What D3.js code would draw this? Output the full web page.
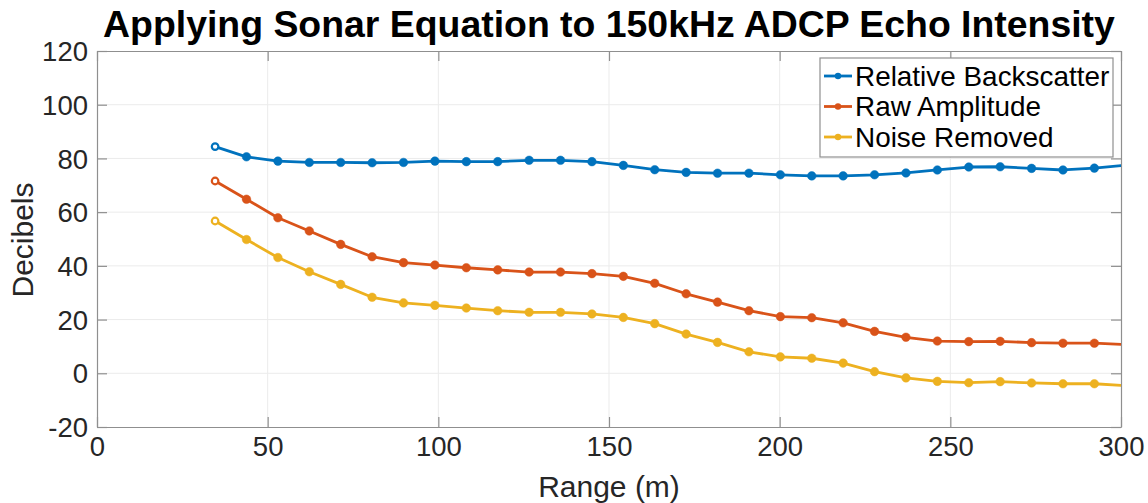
<!DOCTYPE html>
<html><head><meta charset="utf-8">
<script src="https://cdn.jsdelivr.net/npm/d3@7"></script>
<style>body{margin:0;background:#fff;} text{font-family:"Liberation Sans",Arial,Helvetica,sans-serif;}</style>
</head><body><svg id="c" width="1148" height="503"></svg>
<script>
const rangeM = [34.6,43.8,53.0,62.2,71.4,80.6,89.8,99.0,108.2,117.4,126.6,135.8,145.0,154.2,163.4,172.6,181.8,191.0,200.2,209.4,218.6,227.8,237.0,246.2,255.4,264.6,273.8,283.0,292.2,301.4];
const relativeBackscatter = [84.4,80.6,79.0,78.5,78.5,78.4,78.5,79.0,78.8,78.8,79.3,79.3,78.8,77.4,75.8,74.8,74.5,74.5,73.9,73.5,73.5,73.9,74.6,75.7,76.8,76.9,76.3,75.7,76.4,77.5];
const rawAmplitude = [71.6,64.8,57.9,53.0,48.0,43.4,41.2,40.3,39.3,38.5,37.7,37.7,37.1,36.1,33.5,29.6,26.5,23.3,21.1,20.7,18.8,15.6,13.4,12.0,11.8,11.9,11.4,11.2,11.2,10.7];
const noiseRemoved = [56.7,49.8,43.1,37.8,33.1,28.3,26.2,25.3,24.3,23.3,22.7,22.7,22.1,20.8,18.5,14.6,11.5,8.0,6.1,5.6,3.8,0.6,-1.7,-3.0,-3.5,-3.1,-3.6,-3.9,-3.9,-4.6];
const seriesNames = ["Relative Backscatter","Raw Amplitude","Noise Removed"];
const seriesColors = ["#0072BD","#D95319","#EDB120"];
const xTicks = [0,50,100,150,200,250,300];
const yTicks = [-20,0,20,40,60,80,100,120];
const titleText = "Applying Sonar Equation to 150kHz ADCP Echo Intensity";
const xLabel = "Range (m)", yLabel = "Decibels";

const series = [relativeBackscatter, rawAmplitude, noiseRemoved].map((v,i)=>({name:seriesNames[i], color:seriesColors[i], values:v}));

const L=97, R=1121, T=51, B=427;
const svg = d3.select("#c");
const x = d3.scaleLinear().domain([0,300]).range([L,R]);
const y = d3.scaleLinear().domain([-20,120]).range([B,T]);
const axisCol = "#8f8f8f", textCol = "#262626", gridCol = "#ebebeb";
const fmt = d => String(d);

// grid
const g = svg.append("g");
g.selectAll(".gx").data(xTicks.slice(1,-1)).enter().append("line")
 .attr("x1",d=>x(d)).attr("x2",d=>x(d)).attr("y1",T).attr("y2",B).attr("stroke",gridCol).attr("stroke-width",1);
g.selectAll(".gy").data(yTicks.slice(1,-1)).enter().append("line")
 .attr("x1",L).attr("x2",R).attr("y1",d=>y(d)).attr("y2",d=>y(d)).attr("stroke",gridCol).attr("stroke-width",1);

// axes
const tl = 10;
function styleAxis(sel){ sel.select(".domain").attr("stroke",axisCol).attr("stroke-width",1.2);
  sel.selectAll(".tick line").attr("stroke",axisCol).attr("stroke-width",1.2);
  sel.selectAll("text").attr("fill",textCol).style("font-size","27.5px").style("font-family",'"Liberation Sans",Arial,sans-serif'); }
const xa = svg.append("g").attr("transform",`translate(0,${B})`).call(d3.axisBottom(x).tickValues(xTicks).tickSize(-tl).tickSizeOuter(0).tickPadding(9).tickFormat(fmt));
styleAxis(xa);
const xt = svg.append("g").attr("transform",`translate(0,${T})`).call(d3.axisTop(x).tickValues(xTicks).tickSize(-tl).tickSizeOuter(0).tickFormat(""));
styleAxis(xt);
const ya = svg.append("g").attr("transform",`translate(${L},0)`).call(d3.axisLeft(y).tickValues(yTicks).tickSize(-tl).tickSizeOuter(0).tickPadding(9).tickFormat(fmt));
styleAxis(ya);
const yr = svg.append("g").attr("transform",`translate(${R},0)`).call(d3.axisRight(y).tickValues(yTicks).tickSize(-tl).tickSizeOuter(0).tickFormat(""));
styleAxis(yr);
ya.selectAll("text").attr("dy","0.35em");

// clip
svg.append("clipPath").attr("id","clip").append("rect").attr("x",L).attr("y",T).attr("width",R-L).attr("height",B-T);
const plot = svg.append("g").attr("clip-path","url(#clip)");
const line = d3.line().x((d,i)=>x(rangeM[i])).y(d=>y(d));
series.forEach(s=>{
  const sg = plot.append("g");
  sg.append("path").attr("d",line(s.values)).attr("fill","none").attr("stroke",s.color).attr("stroke-width",2.8).attr("stroke-linejoin","round");
  sg.selectAll("circle").data(s.values).enter().append("circle")
    .attr("cx",(d,i)=>x(rangeM[i])).attr("cy",d=>y(d))
    .attr("r",(d,i)=>i===0?3.3:4.3)
    .attr("fill",(d,i)=>i===0?"#fff":s.color)
    .attr("stroke",s.color).attr("stroke-width",(d,i)=>i===0?2.2:0.5);
});

// title & labels
svg.append("text").attr("x",(L+R)/2).attr("y",37).attr("text-anchor","middle").attr("font-weight","bold")
  .style("font-size","37.4px").attr("fill","#000").text(titleText);
svg.append("text").attr("x",(L+R)/2).attr("y",497).attr("text-anchor","middle").style("font-size","30px").attr("fill",textCol).text(xLabel);
svg.append("text").attr("transform","translate(33,240) rotate(-90)").attr("text-anchor","middle").style("font-size","30px").attr("fill",textCol).text(yLabel);

// legend
const lg = svg.append("g");
lg.append("rect").attr("x",820).attr("y",58).attr("width",293).attr("height",99).attr("fill","#fff").attr("stroke",axisCol).attr("stroke-width",1.2);
series.forEach((s,i)=>{
  const cy = 76 + i*30.5;
  lg.append("line").attr("x1",824).attr("x2",852).attr("y1",cy).attr("y2",cy).attr("stroke",s.color).attr("stroke-width",2.8);
  lg.append("circle").attr("cx",838).attr("cy",cy).attr("r",3.2).attr("fill",s.color);
  lg.append("text").attr("x",855).attr("y",cy).attr("dy","0.35em").style("font-size","27.9px").attr("fill","#000").text(s.name);
});
</script></body></html>
